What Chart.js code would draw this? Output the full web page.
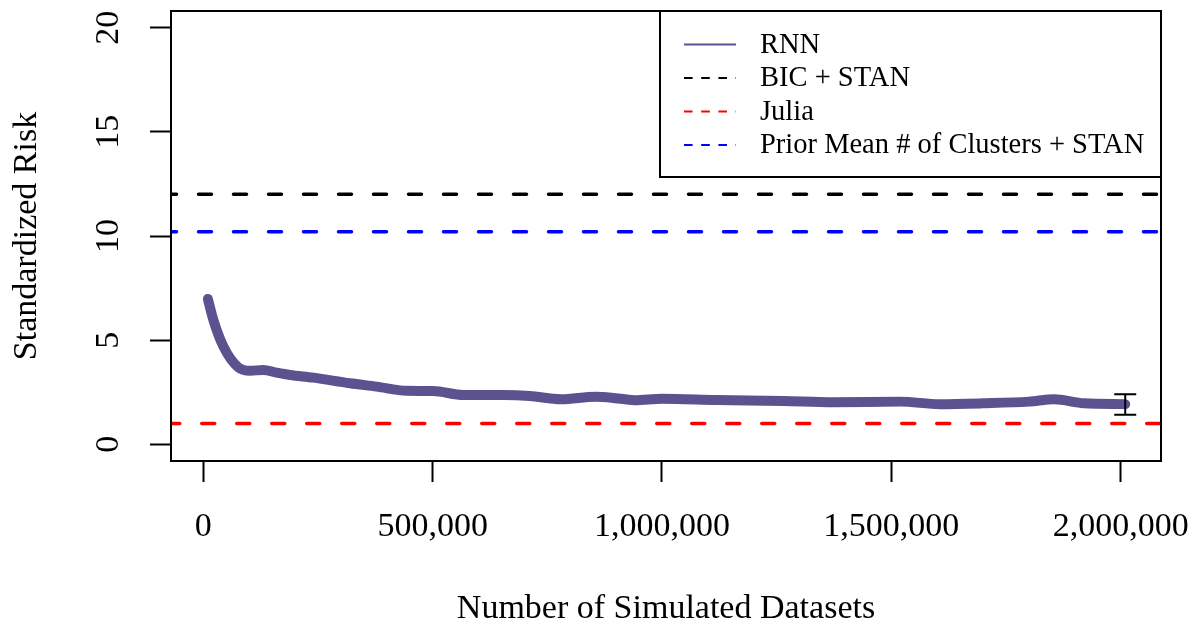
<!DOCTYPE html>
<html lang="en">
<head>
<meta charset="UTF-8">
<title>Standardized Risk</title>
<style>
    body {
        background: #fff;
        padding: 0;
        margin: 0;
    }
    .canvas-wrap {
        width: 1196px;
        height: 624px;
    }
</style>
</head>
<body>
<div class="canvas-wrap">
    <canvas id="canvas1" width="1196" height="624"></canvas>
</div>

<script src="https://cdn.jsdelivr.net/npm/chart.js@4.4.1/dist/chart.umd.min.js"></script>
<script>
// RNN risk curve
const rnnX = [10000, 22000, 44000, 76000, 102000, 131000, 160000, 189000, 240000, 320000,
              378000, 443000, 501000, 567000, 654000, 712000, 780000, 855000, 890000, 940000,
              1000000, 1119000, 1264000, 1373000, 1519000, 1606000, 1700000, 1800000, 1855000,
              1920000, 2010000];
const rnnY = [6.98, 5.97, 4.69, 3.70, 3.53, 3.57, 3.44, 3.33, 3.20, 2.93,
              2.77, 2.57, 2.56, 2.37, 2.37, 2.32, 2.16, 2.28, 2.24, 2.12,
              2.19, 2.13, 2.08, 2.02, 2.05, 1.93, 1.97, 2.05, 2.16,
              1.97, 1.93];

// reference levels
const bicStan = 12;
const julia = 1;
const priorMean = 10.2;

// error bar at the end of the RNN curve
const errX = [2010000];
const errLow = [1.42];
const errHigh = [2.41];

const xTicks = [0, 500000, 1000000, 1500000, 2000000];
const yTicks = [0, 5, 10, 15, 20];
const xRange = [-70400, 2088000];
const yRange = [-0.8, 20.8];

const legendLabels = ['RNN', 'BIC + STAN', 'Julia', 'Prior Mean # of Clusters + STAN'];

const FONT = 'Liberation Serif';
const RNN_COLOR = '#5E5190';

function withCommas(v) {
    return String(v).replace(/\B(?=(\d{3})+(?!\d))/g, ',');
}

function hline(label, y, color, dashOffset) {
    return {
        label: label,
        data: xRange.map(function(x) { return {x: x, y: y}; }),
        borderColor: color,
        borderWidth: 3.5,
        borderDash: [13, 22],
        borderDashOffset: dashOffset,
        borderCapStyle: 'round',
        pointRadius: 0,
        fill: false
    };
}

// box, rotated y labels, error bar and legend, R style
var rStyle = {
    id: 'rStyle',
    afterDatasetsDraw: function(chart) {
        var ctx = chart.ctx;
        var xs = chart.scales.x, ys = chart.scales.y;
        ctx.save();
        ctx.strokeStyle = '#000';
        ctx.lineWidth = 2;
        for (var i = 0; i < errX.length; i++) {
            var px = xs.getPixelForValue(errX[i]);
            var lo = ys.getPixelForValue(errLow[i]);
            var hi = ys.getPixelForValue(errHigh[i]);
            ctx.beginPath();
            ctx.moveTo(px, lo); ctx.lineTo(px, hi);
            ctx.moveTo(px - 11, lo); ctx.lineTo(px + 11, lo);
            ctx.moveTo(px - 11, hi); ctx.lineTo(px + 11, hi);
            ctx.stroke();
        }
        ctx.restore();
    },
    afterDraw: function(chart) {
        var ctx = chart.ctx;
        var a = chart.chartArea;
        var ys = chart.scales.y;
        ctx.save();

        // y tick labels, vertical
        ctx.fillStyle = '#000';
        ctx.font = '34px "' + FONT + '"';
        ctx.textAlign = 'center';
        ctx.textBaseline = 'middle';
        yTicks.forEach(function(v) {
            ctx.save();
            ctx.translate(109, ys.getPixelForValue(v));
            ctx.rotate(-Math.PI / 2);
            ctx.fillText(String(v), 0, 0);
            ctx.restore();
        });

        // legend
        var lx = 660, ly = a.top, lw = a.right - 660, lh = 166;
        ctx.fillStyle = '#fff';
        ctx.fillRect(lx, ly, lw, lh);
        ctx.strokeStyle = '#000';
        ctx.lineWidth = 2;
        ctx.strokeRect(lx, ly, lw, lh);

        ctx.font = '28.5px "' + FONT + '"';
        ctx.textAlign = 'left';
        chart.data.datasets.forEach(function(ds, i) {
            var y = 44.5 + 33.5 * i;
            ctx.beginPath();
            ctx.strokeStyle = ds.borderColor;
            ctx.lineWidth = 2;
            ctx.setLineDash(ds.borderDash ? [8.6, 8.6] : []);
            ctx.moveTo(684, y);
            ctx.lineTo(736, y);
            ctx.stroke();
            ctx.setLineDash([]);
            ctx.fillStyle = '#000';
            ctx.fillText(legendLabels[i], 760, y + 1);
        });

        // plot box
        ctx.strokeStyle = '#000';
        ctx.lineWidth = 2;
        ctx.strokeRect(a.left, a.top, a.right - a.left, a.bottom - a.top);
        ctx.restore();
    }
};

var ctx = document.getElementById('canvas1').getContext('2d');

var chart = new Chart(ctx, {
    type: 'line',
    data: {
        datasets: [
            {
                label: 'RNN',
                data: rnnX.map(function(x, i) { return {x: x, y: rnnY[i]}; }),
                borderColor: RNN_COLOR,
                borderWidth: 10,
                borderCapStyle: 'round',
                borderJoinStyle: 'round',
                cubicInterpolationMode: 'monotone',
                pointRadius: 0,
                fill: false
            },
            hline('BIC + STAN', bicStan, '#000000', 7.5),
            hline('Julia', julia, '#FF0000', 4.25),
            hline('Prior Mean # of Clusters + STAN', priorMean, '#0000FF', 7.5)
        ]
    },
    options: {
        responsive: false,
        animation: false,
        layout: {
            padding: {left: 0, top: 11, right: 35, bottom: 0}
        },
        plugins: {
            legend: {display: false},
            tooltip: {enabled: false}
        },
        scales: {
            x: {
                type: 'linear',
                min: xRange[0],
                max: xRange[1],
                afterBuildTicks: function(s) {
                    s.ticks = xTicks.map(function(v) { return {value: v}; });
                },
                afterFit: function(s) {
                    s.height = 163;
                    s.paddingLeft = 0;
                    s.paddingRight = 0;
                },
                grid: {
                    drawOnChartArea: false,
                    drawTicks: true,
                    tickLength: 21,
                    tickWidth: 2,
                    tickColor: '#000'
                },
                border: {display: true, color: '#000', width: 2},
                ticks: {
                    autoSkip: false,
                    maxRotation: 0,
                    minRotation: 0,
                    padding: 25,
                    color: '#000',
                    font: {family: FONT, size: 34},
                    callback: function(v) { return withCommas(v); }
                },
                title: {
                    display: true,
                    text: 'Number of Simulated Datasets',
                    color: '#000',
                    font: {family: FONT, size: 34, lineHeight: 1},
                    padding: {top: 0, bottom: -2}
                }
            },
            y: {
                type: 'linear',
                min: yRange[0],
                max: yRange[1],
                afterBuildTicks: function(s) {
                    s.ticks = yTicks.map(function(v) { return {value: v}; });
                },
                afterFit: function(s) {
                    s.width = 171;
                    s.paddingTop = 0;
                    s.paddingBottom = 0;
                },
                grid: {
                    drawOnChartArea: false,
                    drawTicks: true,
                    tickLength: 21,
                    tickWidth: 2,
                    tickColor: '#000'
                },
                border: {display: true, color: '#000', width: 2},
                ticks: {display: false},
                title: {
                    display: true,
                    text: 'Standardized Risk',
                    color: '#000',
                    font: {family: FONT, size: 34, lineHeight: 1},
                    padding: {top: 10, bottom: 0}
                }
            }
        }
    },
    plugins: [rStyle]
});
</script>
</body>
</html>
